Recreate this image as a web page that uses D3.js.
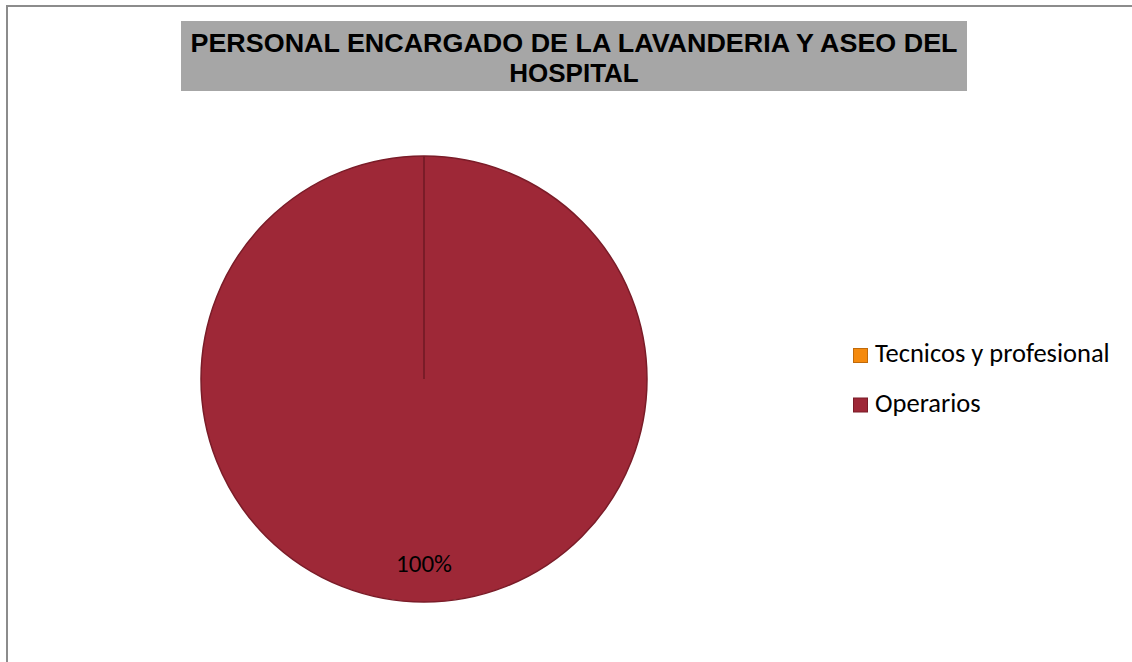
<!DOCTYPE html>
<html><head><meta charset="utf-8">
<script src="https://cdn.jsdelivr.net/npm/d3@7"></script>
<style>body{margin:0;background:#fff;}svg{display:block;}</style>
</head><body>
<svg id="c" width="1132" height="662"></svg>
<script>
const categories = ["Tecnicos y profesional", "Operarios"];
const values = [0, 100];
const colors = ["#F58A0D", "#9E2837"];
const strokes = ["#C06A0A", "#7A1C28"];
const titleLines = ["PERSONAL ENCARGADO DE LA LAVANDERIA Y ASEO DEL", "HOSPITAL"];

const svg = d3.select("#c");
// outer border
svg.append("path").attr("d","M7,662 V6 H1132").attr("fill","none").attr("stroke","#8c8c8c").attr("stroke-width",2);

// title box
svg.append("rect").attr("x",181).attr("y",21).attr("width",786).attr("height",70).attr("fill","#A6A6A6");
const tt = svg.append("text").attr("text-anchor","middle")
  .attr("font-family","Liberation Sans, Arial, sans-serif").attr("font-weight","bold").attr("font-size",26);
tt.selectAll("tspan").data(titleLines).join("tspan").attr("x",574).attr("y",(d,i)=>52+i*30)
  .attr("textLength",(d,i)=>i===0?767:null).attr("lengthAdjust","spacingAndGlyphs").text(d=>d);

// pie
const cx=424, cy=379, r=223;
const pie = d3.pie().sort(null).value(d=>d)(values);
const arc = d3.arc().innerRadius(0).outerRadius(r);
const g = svg.append("g").attr("transform",`translate(${cx},${cy})`);
g.selectAll("path").data(pie).join("path").attr("d",arc)
  .attr("fill",(d,i)=>colors[i]).attr("stroke",(d,i)=>strokes[i]).attr("stroke-width",1.5);
// zero-slice boundary line
g.append("line").attr("x1",0).attr("y1",0).attr("x2",0).attr("y2",-r).attr("stroke","#7A1C28").attr("stroke-width",2);

const total = d3.sum(values);
const labelArc = d3.arc().innerRadius(r*0.825).outerRadius(r*0.825);
g.selectAll("text.lbl").data(pie.filter(d=>d.data>0)).join("text").attr("class","lbl")
  .attr("transform",d=>{const c=labelArc.centroid(d);return `translate(${c[0]},${c[1]})`;})
  .attr("text-anchor","middle").attr("dy","0.35em")
  .attr("font-family","Carlito, Lato, sans-serif").attr("font-size",25).attr("fill","#000")
  .text(d=>Math.round(d.data/total*100)+"%");

// legend
const lg = svg.append("g").attr("transform","translate(853,348)");
const items = lg.selectAll("g").data(categories).join("g").attr("transform",(d,i)=>`translate(0,${i*49.5})`);
items.append("rect").attr("x",0.5).attr("y",0.5).attr("width",14).attr("height",14)
  .attr("fill",(d,i)=>colors[i]).attr("stroke",(d,i)=>strokes[i]).attr("stroke-width",1);
items.append("text").attr("x",22).attr("y",14).attr("font-family","Carlito, Lato, sans-serif").attr("font-size",26.5).attr("fill","#000").text(d=>d);
</script>
</body></html>
